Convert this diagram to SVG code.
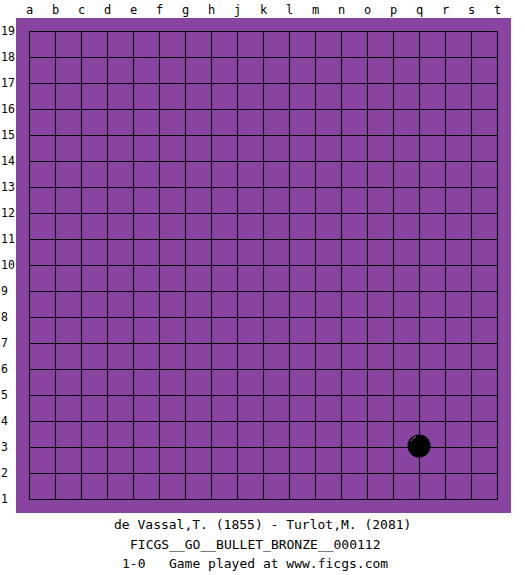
<svg xmlns="http://www.w3.org/2000/svg" width="525" height="575" viewBox="0 0 525 575">
<style>
text{font-family:"DejaVu Sans Mono","Liberation Mono",monospace;font-size:13px;fill:#000;white-space:pre}
.col{text-anchor:middle;font-size:12px}
.row{font-size:11.5px}
.grid line{stroke:#000;stroke-width:1.1}
</style>
<rect width="525" height="575" fill="#fff"/>
<g id="board">
<rect x="16" y="18" width="495" height="495" fill="#8844A0"/>
</g>
<g id="grid" class="grid">
<line x1="29.5" y1="31.5" x2="497.5" y2="31.5"/>
<line x1="29.5" y1="57.5" x2="497.5" y2="57.5"/>
<line x1="29.5" y1="83.5" x2="497.5" y2="83.5"/>
<line x1="29.5" y1="109.5" x2="497.5" y2="109.5"/>
<line x1="29.5" y1="135.5" x2="497.5" y2="135.5"/>
<line x1="29.5" y1="161.5" x2="497.5" y2="161.5"/>
<line x1="29.5" y1="187.5" x2="497.5" y2="187.5"/>
<line x1="29.5" y1="213.5" x2="497.5" y2="213.5"/>
<line x1="29.5" y1="239.5" x2="497.5" y2="239.5"/>
<line x1="29.5" y1="265.5" x2="497.5" y2="265.5"/>
<line x1="29.5" y1="291.5" x2="497.5" y2="291.5"/>
<line x1="29.5" y1="317.5" x2="497.5" y2="317.5"/>
<line x1="29.5" y1="343.5" x2="497.5" y2="343.5"/>
<line x1="29.5" y1="369.5" x2="497.5" y2="369.5"/>
<line x1="29.5" y1="395.5" x2="497.5" y2="395.5"/>
<line x1="29.5" y1="421.5" x2="497.5" y2="421.5"/>
<line x1="29.5" y1="447.5" x2="497.5" y2="447.5"/>
<line x1="29.5" y1="473.5" x2="497.5" y2="473.5"/>
<line x1="29.5" y1="499.5" x2="497.5" y2="499.5"/>
<line x1="29.5" y1="31.5" x2="29.5" y2="499.5"/>
<line x1="55.5" y1="31.5" x2="55.5" y2="499.5"/>
<line x1="81.5" y1="31.5" x2="81.5" y2="499.5"/>
<line x1="107.5" y1="31.5" x2="107.5" y2="499.5"/>
<line x1="133.5" y1="31.5" x2="133.5" y2="499.5"/>
<line x1="159.5" y1="31.5" x2="159.5" y2="499.5"/>
<line x1="185.5" y1="31.5" x2="185.5" y2="499.5"/>
<line x1="211.5" y1="31.5" x2="211.5" y2="499.5"/>
<line x1="237.5" y1="31.5" x2="237.5" y2="499.5"/>
<line x1="263.5" y1="31.5" x2="263.5" y2="499.5"/>
<line x1="289.5" y1="31.5" x2="289.5" y2="499.5"/>
<line x1="315.5" y1="31.5" x2="315.5" y2="499.5"/>
<line x1="341.5" y1="31.5" x2="341.5" y2="499.5"/>
<line x1="367.5" y1="31.5" x2="367.5" y2="499.5"/>
<line x1="393.5" y1="31.5" x2="393.5" y2="499.5"/>
<line x1="419.5" y1="31.5" x2="419.5" y2="499.5"/>
<line x1="445.5" y1="31.5" x2="445.5" y2="499.5"/>
<line x1="471.5" y1="31.5" x2="471.5" y2="499.5"/>
<line x1="497.5" y1="31.5" x2="497.5" y2="499.5"/>
</g>
<g id="col-labels">
<text x="29.5" y="14" class="col">a</text>
<text x="55.5" y="14" class="col">b</text>
<text x="81.5" y="14" class="col">c</text>
<text x="107.5" y="14" class="col">d</text>
<text x="133.5" y="14" class="col">e</text>
<text x="159.5" y="14" class="col">f</text>
<text x="185.5" y="14" class="col">g</text>
<text x="211.5" y="14" class="col">h</text>
<text x="237.5" y="14" class="col">j</text>
<text x="263.5" y="14" class="col">k</text>
<text x="289.5" y="14" class="col">l</text>
<text x="315.5" y="14" class="col">m</text>
<text x="341.5" y="14" class="col">n</text>
<text x="367.5" y="14" class="col">o</text>
<text x="393.5" y="14" class="col">p</text>
<text x="419.5" y="14" class="col">q</text>
<text x="445.5" y="14" class="col">r</text>
<text x="471.5" y="14" class="col">s</text>
<text x="497.5" y="14" class="col">t</text>
</g>
<g id="row-labels">
<text x="1" y="35" class="row">19</text>
<text x="1" y="61" class="row">18</text>
<text x="1" y="87" class="row">17</text>
<text x="1" y="113" class="row">16</text>
<text x="1" y="139" class="row">15</text>
<text x="1" y="165" class="row">14</text>
<text x="1" y="191" class="row">13</text>
<text x="1" y="217" class="row">12</text>
<text x="1" y="243" class="row">11</text>
<text x="1" y="269" class="row">10</text>
<text x="1" y="295" class="row">9</text>
<text x="1" y="321" class="row">8</text>
<text x="1" y="347" class="row">7</text>
<text x="1" y="373" class="row">6</text>
<text x="1" y="399" class="row">5</text>
<text x="1" y="425" class="row">4</text>
<text x="1" y="451" class="row">3</text>
<text x="1" y="477" class="row">2</text>
<text x="1" y="503" class="row">1</text>
</g>
<g id="stone-q3">
<circle cx="419" cy="446" r="11.5" fill="#000"/>
<path d="M410.5,442 A9,9 0 0 1 416,436.5" fill="none" stroke="#777" stroke-width="1"/>
</g>
<g id="caption">
<text x="114" y="529">de Vassal,T. (1855) - Turlot,M. (2081)</text>
<text x="130" y="549">FICGS__GO__BULLET_BRONZE__000112</text>
<text x="122" y="568" xml:space="preserve">1-0   Game played at www.ficgs.com</text>
</g>
</svg>
